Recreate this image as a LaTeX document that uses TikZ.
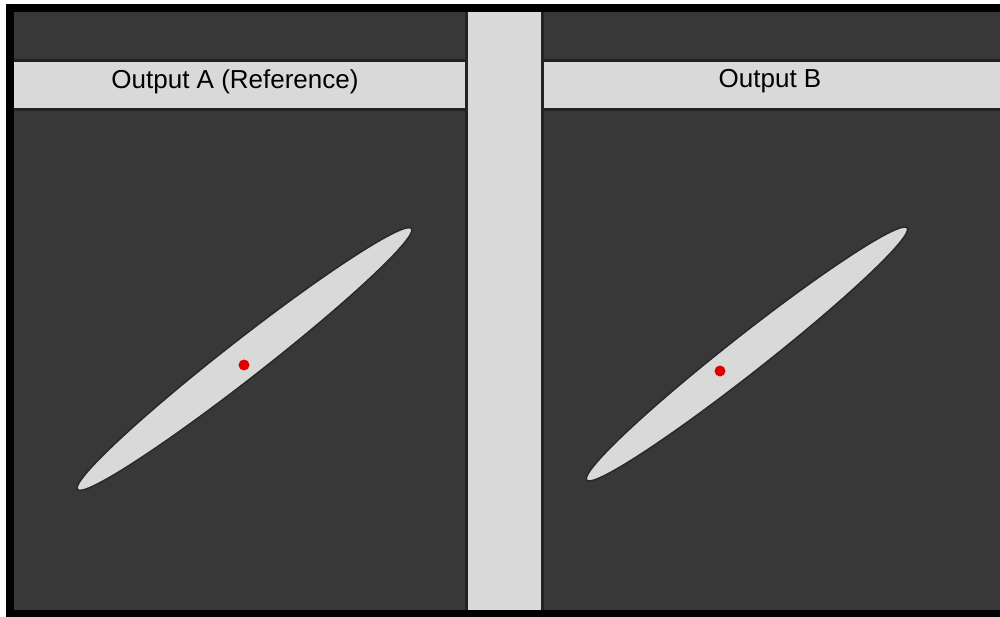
\documentclass[tikz,border=0pt]{standalone}
\usepackage{fontspec}
\setmainfont{Liberation Sans}
\definecolor{panel}{HTML}{383838}
\definecolor{bar}{HTML}{D9D9D9}
\definecolor{baredge}{HTML}{222222}
\definecolor{dot}{HTML}{E00000}
\tikzset{
  barfill/.style={fill=bar},
  bardark/.style={fill=baredge},
  blob/.style={fill=bar, draw=baredge!70!panel, line width=1.5pt},
  marker/.style={fill=dot},
  title/.style={font=\fontsize{26}{30}\selectfont, text=black, inner sep=0pt}
}
\begin{document}
\begin{tikzpicture}[x=1pt,y=-1pt]
\useasboundingbox (0,0) rectangle (1000,617);
% frame and background
\fill[white] (0,0) rectangle (1000,617);
\fill[black] (6,4) rectangle (1000,617);
\fill[panel] (14,12) rectangle (1000,610);
% header bars
\fill[bardark] (14,59) rectangle (469,111);
\fill[barfill] (14,62) rectangle (466,108);
\fill[bardark] (540,59) rectangle (1000,111);
\fill[barfill] (543,62) rectangle (1000,108);
% vertical separator
\fill[bardark] (465,12) rectangle (544,610);
\fill[barfill] (468,12) rectangle (541,610);
% titles
\node[title] (titleA) at (235,81.5) {Output A (Reference)};
\node[title] (titleB) at (770,81.5) {Output B};
% ellipses
\coordinate (cA) at (244.5,359);
\coordinate (cB) at (747,354);
\path[blob, rotate around={38:(cA)}] (cA) ellipse [x radius=212, y radius=19];
\path[blob, rotate around={38.2:(cB)}] (cB) ellipse [x radius=204, y radius=18.5];
% centre markers
\fill[marker] (244,365) circle (5.5);
\fill[marker] (720,371) circle (5.5);
\end{tikzpicture}
\end{document}
